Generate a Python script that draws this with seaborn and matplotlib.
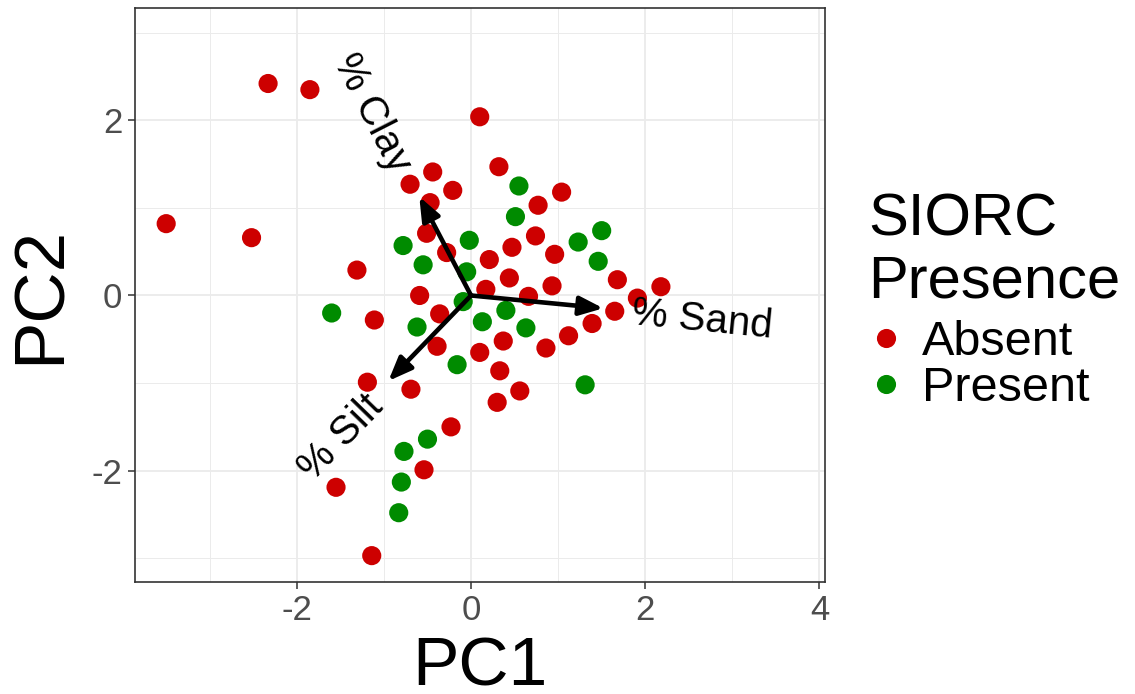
import numpy as np
import pandas as pd
import matplotlib
matplotlib.use("Agg")
import matplotlib.pyplot as plt
import seaborn as sns
from matplotlib.ticker import FixedLocator

# ---- data ----
absent_pc1 = [-2.33, -1.85, 0.10, -0.44, -0.70, -0.21, -0.47, -3.50, -2.52, -0.51,
              -0.28, -1.31, -0.59, -1.11, -0.36, 0.32, 1.04, 0.77, 0.74, 0.47,
              0.21, 0.96, 0.44, 0.93, 1.68, 2.18, 0.17, 0.66, 1.91, 1.65,
              1.39, 1.12, 0.86, 0.37, -0.39, 0.10, 0.33, -1.19, -0.69, 0.56,
              0.30, -0.23, -0.54, -1.55, -1.14]
absent_pc2 = [2.42, 2.35, 2.04, 1.41, 1.27, 1.20, 1.06, 0.82, 0.66, 0.71,
              0.49, 0.29, 0.00, -0.28, -0.21, 1.47, 1.18, 1.03, 0.68, 0.55,
              0.41, 0.47, 0.20, 0.11, 0.18, 0.10, 0.07, -0.01, -0.03, -0.18,
              -0.32, -0.46, -0.60, -0.52, -0.58, -0.65, -0.86, -0.99, -1.07, -1.09,
              -1.22, -1.50, -1.99, -2.19, -2.97]
present_pc1 = [-0.78, -0.02, -0.55, -0.05, -0.09, -1.60, -0.62, 0.55, 0.51, 1.50,
               1.23, 1.46, 0.40, 0.13, 0.63, -0.16, 1.31, -0.50, -0.77, -0.80,
               -0.83]
present_pc2 = [0.57, 0.63, 0.35, 0.27, -0.07, -0.20, -0.36, 1.25, 0.90, 0.74,
               0.61, 0.39, -0.17, -0.30, -0.37, -0.79, -1.02, -1.64, -1.78, -2.13,
               -2.48]
groups = ["Absent", "Present"]
group_colors = ["#CD0000", "#008B00"]
legend_title = "SIORC\nPresence"

var_names = ["% Clay", "% Sand", "% Silt"]
load_pc1 = [-0.594, 1.519, -0.949]
load_pc2 = [1.128, -0.146, -0.976]
label_pc1 = [-1.14, 2.66, -1.49]
label_pc2 = [2.08, -0.28, -1.62]
label_angle = [-63.0, -5.6, 45.8]

x_major = [-2, 0, 2, 4]
x_minor = [-3, -1, 1, 3]
y_major = [-2, 0, 2]
y_minor = [-3, -1, 1, 3]

df = pd.DataFrame({
    "PC1": absent_pc1 + present_pc1,
    "PC2": absent_pc2 + present_pc2,
    "SIORC": [groups[0]] * len(absent_pc1) + [groups[1]] * len(present_pc1),
})

sns.set_theme(style="white")
plt.rcParams["font.family"] = ["Liberation Sans", "DejaVu Sans"]
plt.rcParams["axes.unicode_minus"] = False
plt.rcParams["text.color"] = "black"
plt.rcParams["axes.labelcolor"] = "black"

W, H = 1135, 694
fig = plt.figure(figsize=(W / 100, H / 100), dpi=100)
ax = fig.add_axes([135 / W, 1 - 582 / H, 690 / W, 574 / H])

# grid
ax.xaxis.set_major_locator(FixedLocator(x_major))
ax.xaxis.set_minor_locator(FixedLocator(x_minor))
ax.yaxis.set_major_locator(FixedLocator(y_major))
ax.yaxis.set_minor_locator(FixedLocator(y_minor))
ax.grid(which="major", color="#EBEBEB", linewidth=1.3, zorder=0)
ax.grid(which="minor", color="#EBEBEB", linewidth=0.7, zorder=0)
ax.set_axisbelow(True)

sns.scatterplot(data=df, x="PC1", y="PC2", hue="SIORC", hue_order=groups,
                palette=group_colors, s=190, edgecolor="none", linewidth=0,
                ax=ax, zorder=3)

# loadings arrows
for i in range(len(var_names)):
    ax.annotate("", xy=(load_pc1[i], load_pc2[i]), xytext=(0, 0),
                arrowprops=dict(arrowstyle="-|>,head_length=0.55,head_width=0.22",
                                lw=3.3, color="black", mutation_scale=26,
                                shrinkA=0, shrinkB=0), zorder=5)
    ax.text(label_pc1[i], label_pc2[i], var_names[i], rotation=label_angle[i],
            rotation_mode="anchor", ha="center", va="center", fontsize=29,
            color="black", zorder=6)

ax.set_xlim(-3.858, 4.064)
ax.set_ylim(-3.271, 3.282)

for sp in ax.spines.values():
    sp.set_color("#333333")
    sp.set_linewidth(1.2)

ax.tick_params(axis="both", which="major", length=5, width=1.1, color="#333333",
               labelsize=25, labelcolor="#4D4D4D", pad=4, bottom=True, left=True)
ax.tick_params(axis="both", which="minor", length=0)

ax.set_xlabel("PC1", fontsize=50, color="black", labelpad=6)
ax.set_ylabel("PC2", fontsize=51, color="black", labelpad=12)

# legend: title drawn as figure text, entries as a legend
handles, labels = ax.get_legend_handles_labels()
fig.text(868 / W, 1 - 193 / H, legend_title, fontsize=43, ha="left", va="top",
         linespacing=1.15, color="black")
leg = ax.legend(handles, labels, loc="upper left",
                bbox_to_anchor=(867 / W, 1 - 320 / H), bbox_transform=fig.transFigure,
                frameon=False, fontsize=35, handletextpad=0.33, labelspacing=0.03,
                borderaxespad=0, borderpad=0, handlelength=0.8)

fig.savefig("out.png", dpi=100)
